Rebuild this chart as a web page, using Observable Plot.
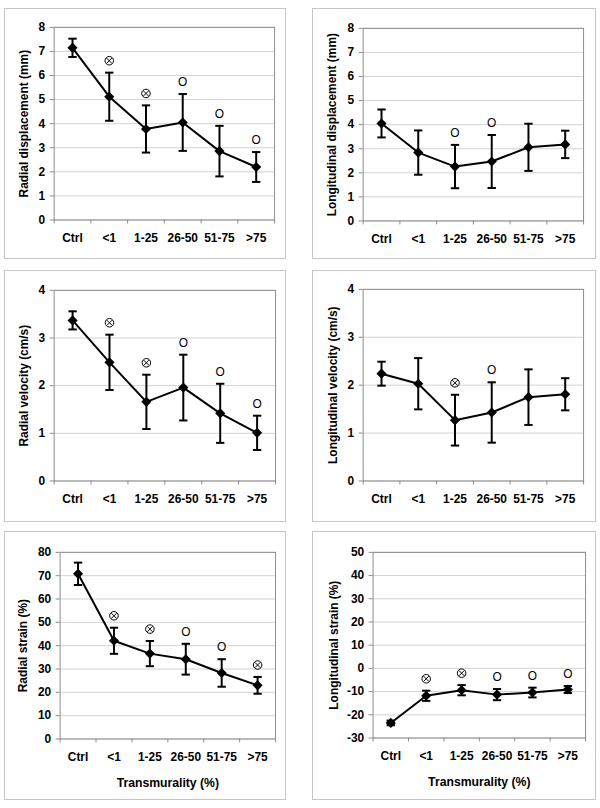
<!DOCTYPE html>
<html>
<head>
<meta charset="utf-8">
<script src="https://cdn.jsdelivr.net/npm/d3@7"></script>
<script src="https://cdn.jsdelivr.net/npm/@observablehq/plot@0.6"></script>
<style>
  html, body { margin: 0; padding: 0; background: #fff; }
  #root { position: relative; width: 600px; height: 808px; background: #fff; overflow: hidden; }
  .panel { position: absolute; box-sizing: border-box; border: 1px solid #c6c6c6; background: #fff; }
  .panel svg { position: absolute; left: -1px; top: -1px; }
</style>
</head>
<body>
<div id="root"></div>
<script>
// ---- data ----
const categories = ["Ctrl", "<1", "1-25", "26-50", "51-75", ">75"];

const radDispMean = [7.15, 5.12, 3.78, 4.05, 2.86, 2.20];
const radDispSD   = [0.38, 1.00, 0.98, 1.18, 1.05, 0.62];
const radDispSig  = ["", "⊗", "⊗", "O", "O", "O"];

const longDispMean = [4.05, 2.84, 2.26, 2.47, 3.06, 3.18];
const longDispSD   = [0.58, 0.92, 0.90, 1.10, 0.98, 0.57];
const longDispSig  = ["", "", "O", "O", "", ""];

const radVelMean = [3.37, 2.49, 1.66, 1.96, 1.42, 1.01];
const radVelSD   = [0.19, 0.58, 0.57, 0.69, 0.62, 0.36];
const radVelSig  = ["", "⊗", "⊗", "O", "O", "O"];

const longVelMean = [2.24, 2.03, 1.27, 1.43, 1.75, 1.81];
const longVelSD   = [0.25, 0.535, 0.53, 0.63, 0.58, 0.335];
const longVelSig  = ["", "", "⊗", "O", "", ""];

const radStrainMean = [70.8, 42.1, 36.6, 34.2, 28.3, 23.0];
const radStrainSD   = [4.8, 5.6, 5.4, 6.6, 5.9, 3.6];
const radStrainSig  = ["", "⊗", "⊗", "O", "O", "⊗"];

const longStrainMean = [-23.5, -11.8, -9.4, -11.3, -10.4, -9.1];
const longStrainSD   = [1.0, 2.2, 2.2, 2.4, 2.1, 1.5];
const longStrainSig  = ["", "⊗", "⊗", "O", "O", "O"];

const dispTicks = [0, 1, 2, 3, 4, 5, 6, 7, 8];
const velTicks = [0, 1, 2, 3, 4];
const radStrainTicks = [0, 10, 20, 30, 40, 50, 60, 70, 80];
const longStrainTicks = [-30, -20, -10, 0, 10, 20, 30, 40, 50];

const xTitle = "Transmurality (%)";

// ---- layout ----
const panels = [
  {L: 4,   T: 8,   R: 286, B: 259, pl: 54,  pt: 27,  pr: 276, pb: 221, mean: radDispMean, sd: radDispSD, sig: radDispSig, ticks: dispTicks, title: "Radial displacement (mm)", tOff: 30, xt: false},
  {L: 312, T: 8,   R: 596, B: 259, pl: 363, pt: 28,  pr: 585, pb: 222, mean: longDispMean, sd: longDispSD, sig: longDispSig, ticks: dispTicks, title: "Longitudinal displacement (mm)", tOff: 31, xt: false},
  {L: 4,   T: 270, R: 286, B: 522, pl: 54,  pt: 290, pr: 277, pb: 482, mean: radVelMean, sd: radVelSD, sig: radVelSig, ticks: velTicks, title: "Radial velocity (cm/s)", tOff: 30, xt: false},
  {L: 312, T: 270, R: 596, B: 522, pl: 363, pt: 289, pr: 585, pb: 482, mean: longVelMean, sd: longVelSD, sig: longVelSig, ticks: velTicks, title: "Longitudinal velocity (cm/s)", tOff: 30, xt: false},
  {L: 4,   T: 531, R: 286, B: 800, pl: 60,  pt: 552, pr: 277, pb: 740, mean: radStrainMean, sd: radStrainSD, sig: radStrainSig, ticks: radStrainTicks, title: "Radial strain (%)", tOff: 37, xt: true},
  {L: 312, T: 531, R: 596, B: 800, pl: 373, pt: 552, pr: 587, pb: 739, mean: longStrainMean, sd: longStrainSD, sig: longStrainSig, ticks: longStrainTicks, title: "Longitudinal strain (%)", tOff: 39, xt: true}
];

const FONT = "'Liberation Sans', Arial, Helvetica, sans-serif";
const capSymbol = {
  draw(ctx, size) {
    const r = Math.sqrt(size / Math.PI);
    ctx.moveTo(-r, 0);
    ctx.lineTo(r, 0);
  }
};
const otimesSymbol = {
  draw(ctx, size) {
    const r = Math.sqrt(size / Math.PI);
    ctx.moveTo(r, 0);
    ctx.arc(0, 0, r, 0, 2 * Math.PI);
    const a = r * 0.62;
    ctx.moveTo(-a, -a); ctx.lineTo(a, a);
    ctx.moveTo(-a, a); ctx.lineTo(a, -a);
  }
};

const root = document.getElementById("root");

for (const p of panels) {
  const W = p.R - p.L, H = p.B - p.T;
  const rows = categories.map((c, i) => ({c, i, m: p.mean[i], sd: p.sd[i], sig: p.sig[i]}));
  const xv = d => d.i + 0.5;
  const marks = [
    Plot.gridY(p.ticks, {stroke: "#d2d2d2", strokeOpacity: 1}),
    Plot.frame({stroke: "#8c8c8c"}),
    Plot.axisY({ticks: p.ticks, tickSize: 4, tickPadding: 5, stroke: "#8c8c8c", tickFormat: d => String(d),
      fontSize: 12, fontWeight: "bold", fill: "#000", label: null}),
    Plot.axisX({ticks: d3.range(categories.length + 1), tickSize: 4, tickFormat: () => "", stroke: "#8c8c8c", label: null}),
    Plot.axisX({ticks: categories.map((c, i) => i + 0.5), tickSize: 0, tickPadding: 14,
      tickFormat: v => categories[Math.floor(v)], fontSize: 12, fontWeight: "bold", fill: "#000", label: null}),
    Plot.text([p.title], {frameAnchor: "left", text: d => d, rotate: -90, dx: -p.tOff, textAnchor: "middle",
      lineAnchor: "middle", fontSize: 12, fontWeight: "bold", fill: "#000"}),
    Plot.line(rows, {x: xv, y: "m", stroke: "#000", strokeWidth: 2}),
    Plot.ruleX(rows, {x: xv, y1: d => d.m - d.sd, y2: d => d.m + d.sd, stroke: "#000", strokeWidth: 2}),
    Plot.dot(rows, {x: xv, y: d => d.m + d.sd, symbol: capSymbol, r: 4.2, fill: "none", stroke: "#000", strokeWidth: 2}),
    Plot.dot(rows, {x: xv, y: d => d.m - d.sd, symbol: capSymbol, r: 4.2, fill: "none", stroke: "#000", strokeWidth: 2}),
    Plot.dot(rows, {x: xv, y: "m", symbol: "diamond2", r: 4.6, fill: "#000", stroke: "none"}),
    Plot.text(rows.filter(d => d.sig === "O"), {x: xv, y: d => d.m + d.sd, text: "sig", dy: -12, fontSize: 12,
      fill: "#000", lineAnchor: "middle", textAnchor: "middle"}),
    Plot.dot(rows.filter(d => d.sig === "⊗"), {x: xv, y: d => d.m + d.sd, dy: -12, symbol: otimesSymbol, r: 4.3,
      fill: "none", stroke: "#000", strokeWidth: 1})
  ];
  if (p.xt) {
    marks.push(Plot.text([xTitle], {frameAnchor: "bottom", text: d => d, dy: 44, lineAnchor: "middle",
      fontSize: 12.3, fontWeight: "bold", fill: "#000"}));
  }
  const svg = Plot.plot({
    width: W,
    height: H,
    marginLeft: p.pl - p.L,
    marginRight: p.R - p.pr,
    marginTop: p.pt - p.T,
    marginBottom: p.B - p.pb,
    style: {fontFamily: FONT, background: "transparent", overflow: "visible"},
    x: {type: "linear", domain: [0, categories.length], label: null},
    y: {type: "linear", domain: [p.ticks[0], p.ticks[p.ticks.length - 1]], label: null},
    marks
  });
  const div = document.createElement("div");
  div.className = "panel";
  div.style.left = p.L + "px";
  div.style.top = p.T + "px";
  div.style.width = W + "px";
  div.style.height = H + "px";
  div.appendChild(svg);
  root.appendChild(div);
}
</script>
</body>
</html>
